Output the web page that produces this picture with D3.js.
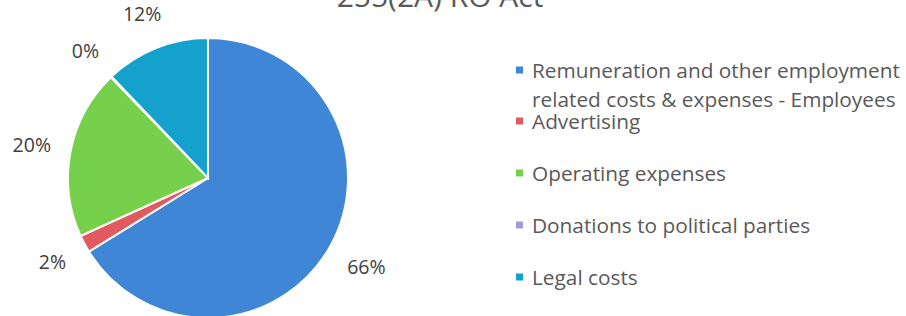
<!DOCTYPE html>
<html>
<head>
<meta charset="utf-8">
<script src="https://cdn.jsdelivr.net/npm/d3@7"></script>
<style>
  html, body { margin: 0; padding: 0; background: #fff; }
  svg { display: block; font-family: "Open Sans", Lato, sans-serif; }
</style>
</head>
<body>
<svg id="chart" width="906" height="316"></svg>
<script>
// chart data
const categories = [
    "Remuneration and other employment related costs & expenses - Employees",
    "Advertising",
    "Operating expenses",
    "Donations to political parties",
    "Legal costs"
];
const shares = [66.2, 2.0, 19.6, 0.1, 12.1];
const labels = ["66%", "2%", "20%", "0%", "12%"];
const legendLines = [
    ["Remuneration and other employment", "related costs & expenses - Employees"],
    ["Advertising"],
    ["Operating expenses"],
    ["Donations to political parties"],
    ["Legal costs"]
];
const colors = ["#3f86d6", "#e05a60", "#76d04b", "#a49ad6", "#14a2cc"];
const title = "255(2A) RO Act";

// layout
const PIE = { cx: 208, cy: 178, r: 140, labelGap: 18 };
const LEGEND = { x: 516, textX: 532, firstY: 70, lineH: 29, y0: 121, step: 52, box: 7 };

const svg = d3.select("#chart");

svg.append("text")
    .attr("x", 440)
    .attr("y", 7)
    .attr("text-anchor", "middle")
    .attr("font-size", 30)
    .attr("fill", "#595959")
    .text(title);

const pie = d3.pie().sort(null).value(d => d);
const arcs = pie(shares);
const arc = d3.arc().innerRadius(0).outerRadius(PIE.r);

const g = svg.append("g").attr("transform", `translate(${PIE.cx},${PIE.cy})`);

g.selectAll("path.slice")
    .data(arcs)
    .join("path")
    .attr("class", "slice")
    .attr("d", arc)
    .attr("fill", (d, i) => colors[i])
    .attr("stroke", "#fff")
    .attr("stroke-width", 2);

// outside-end labels
g.selectAll("text.lbl")
    .data(arcs)
    .join("text")
    .attr("class", "lbl")
    .attr("font-size", 19.5)
    .attr("fill", "#404040")
    .attr("text-anchor", "middle")
    .attr("dominant-baseline", "central")
    .text((d, i) => labels[i])
    .each(function (d) {
        const bb = this.getBBox();
        const a = (d.startAngle + d.endAngle) / 2;
        const s = Math.sin(a), c = Math.cos(a);
        const rr = PIE.r + PIE.labelGap + bb.width / 2 * Math.abs(s) + bb.height / 2 * Math.abs(c);
        d3.select(this).attr("x", rr * s).attr("y", -rr * c);
    });

// legend
const leg = svg.append("g");
legendLines.forEach((lines, i) => {
    const y = i === 0 ? LEGEND.firstY : LEGEND.y0 + (i - 1) * LEGEND.step;
    leg.append("rect")
        .attr("x", LEGEND.x)
        .attr("y", y - LEGEND.box / 2)
        .attr("width", LEGEND.box)
        .attr("height", LEGEND.box)
        .attr("fill", colors[i]);
    lines.forEach((line, j) => {
        leg.append("text")
            .attr("x", LEGEND.textX)
            .attr("y", y + j * LEGEND.lineH)
            .attr("dominant-baseline", "central")
            .attr("font-size", 20.8)
            .attr("fill", "#595959")
            .text(line);
    });
});
</script>
</body>
</html>
